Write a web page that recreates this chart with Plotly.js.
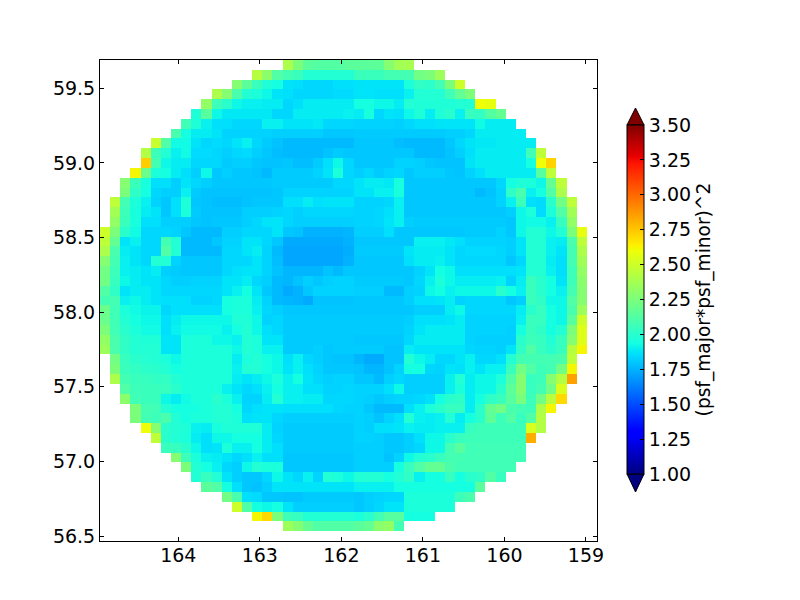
<!DOCTYPE html>
<html>
<head>
<meta charset="utf-8">
<script src="https://cdn.plot.ly/plotly-3.0.1.min.js"></script>
<style>html,body{margin:0;padding:0;background:#fff}</style>
</head>
<body>
<div id="chart" style="width:800px;height:600px"></div>
<script>
const rowStart = [18,15,13,11,10,9,8,7,5,4,4,3,2,2,1,1,1,0,0,0,0,0,0,0,0,0,0,0,0,0,1,1,1,2,2,3,3,4,5,6,7,8,9,10,12,13,15,18];
const r00=[240,225,215,213,213,213,215,215,215,216,228,237,238];
const r01=[243,230,212,208,205,198,198,198,198,198,205,205,205,208,208,208,222,225,235];
const r02=[228,215,205,197,194,187,186,184,184,184,186,186,187,187,187,187,187,196,203,201,208,225,250];
const r03=[240,228,210,198,196,192,187,186,184,184,184,184,185,185,187,187,186,186,186,190,198,198,198,207,217,225];
const r04=[232,206,200,192,190,190,189,189,184,186,189,189,189,189,189,194,194,192,192,189,198,197,197,197,197,198,198,260,258];
const r05=[197,214,192,188,188,188,188,188,184,184,189,189,189,189,189,190,189,195,184,187,186,192,197,189,197,200,190,204,203,213,218];
const r06=[207,197,190,186,186,184,184,184,190,190,187,187,187,188,184,184,184,183,183,183,183,182,184,186,186,187,187,187,187,193,189,189,189];
const r07=[210,194,189,189,187,183,183,183,183,183,182,182,182,182,182,180,180,180,181,181,181,181,181,181,181,181,181,182,182,184,189,189,189,189,189];
const r08=[248,212,193,193,187,184,185,184,187,190,184,181,179,177,177,177,177,177,177,177,180,180,180,180,178,177,177,177,177,180,184,187,188,188,189,189,189,189];
const r09=[242,206,198,190,193,185,185,184,182,184,185,182,180,178,177,177,177,177,179,181,180,180,180,180,180,180,180,177,177,177,179,182,186,189,189,189,189,189,207,245];
const r10=[273,208,192,189,189,184,184,184,181,182,182,180,179,179,180,178,178,181,186,192,184,180,180,180,180,183,183,182,180,179,179,179,187,189,189,189,189,189,194,260,272];
const r11=[262,220,196,194,189,186,182,192,180,182,180,180,179,177,181,181,181,181,183,187,196,184,182,184,181,183,184,180,182,182,182,180,179,183,186,189,189,189,189,189,214,245];
const r12=[228,205,195,186,186,182,187,184,182,180,180,180,180,180,180,181,181,181,181,181,181,184,184,187,189,189,188,195,180,180,180,180,180,180,180,180,180,184,194,197,196,192,218,245];
const r13=[225,202,194,184,182,182,190,181,179,179,179,179,179,179,179,180,183,183,183,183,183,183,183,187,187,190,190,195,180,180,180,180,180,180,180,177,179,183,202,210,190,194,212,240];
const r14=[245,208,196,190,183,180,186,197,180,179,178,178,178,179,180,180,180,186,186,189,186,187,187,187,183,183,183,184,190,180,180,180,180,180,180,180,180,180,183,190,206,186,185,200,222,245];
const r15=[237,206,195,189,187,180,186,196,181,179,179,179,179,182,182,182,183,184,182,184,184,184,184,184,183,183,184,186,190,180,180,180,180,180,180,180,180,180,180,182,192,196,185,196,212,237];
const r16=[232,205,195,186,186,182,182,182,180,179,180,180,180,182,184,187,187,184,182,182,182,182,182,182,183,183,184,187,190,182,181,181,181,181,181,181,181,181,181,180,192,193,193,190,204,232];
const r17=[250,225,200,193,184,184,184,183,180,177,177,177,182,182,184,184,184,187,180,179,175,175,175,175,176,182,182,182,186,180,180,180,180,180,180,180,181,181,181,183,180,192,198,198,192,198,225,258];
const r18=[245,218,187,190,184,184,208,198,177,177,177,180,183,183,187,187,184,180,173,173,173,173,173,173,175,180,180,180,180,180,180,190,190,190,188,186,183,183,183,183,182,187,198,198,190,189,210,245];
const r19=[240,210,189,187,184,184,212,198,177,177,177,177,184,184,187,189,183,177,172,172,172,172,172,172,174,181,181,181,181,181,187,189,189,189,187,184,185,185,185,184,182,187,198,198,190,187,208,240];
const r20=[228,208,190,187,184,198,198,183,180,180,180,180,184,184,184,187,183,178,172,172,172,172,172,172,175,180,180,180,180,180,186,189,189,190,187,184,184,184,184,184,180,184,198,198,189,186,208,236];
const r21=[222,206,190,189,187,189,182,181,180,180,180,180,184,186,187,187,183,179,176,176,176,176,179,177,180,180,180,180,180,180,180,183,187,194,192,186,186,186,186,186,186,187,198,198,190,186,206,232];
const r22=[222,204,192,189,187,187,184,182,182,183,183,183,187,187,189,184,182,177,176,179,182,180,182,183,183,181,181,181,181,181,180,184,190,196,192,189,189,189,189,190,183,189,205,200,194,187,206,230];
const r23=[212,202,187,189,189,187,184,184,184,184,184,184,187,190,194,187,180,177,173,175,180,183,183,183,183,182,182,182,177,177,182,183,192,194,190,192,192,192,192,200,194,190,205,200,194,190,208,228];
const r24=[208,208,190,192,189,187,186,186,186,183,183,184,194,196,196,189,183,177,176,175,173,179,179,179,179,180,180,180,180,180,182,186,186,187,189,183,184,184,184,184,180,182,205,202,192,192,212,228];
const r25=[220,207,196,193,191,191,184,186,186,186,186,186,194,196,196,190,184,182,180,180,180,180,180,180,180,180,180,180,180,180,180,182,182,182,189,192,184,184,184,184,184,189,200,204,194,192,210,235];
const r26=[220,207,198,194,192,192,186,189,192,192,192,192,192,197,197,192,183,184,181,181,181,181,181,181,181,181,181,181,181,181,182,186,186,186,187,189,183,183,183,183,183,190,205,204,194,192,214,250];
const r27=[225,207,200,196,193,193,186,190,193,193,193,193,190,194,198,192,186,184,181,181,181,181,181,181,181,181,181,181,181,181,183,187,189,189,189,189,183,183,183,183,182,194,205,202,194,198,225,255];
const r28=[232,210,202,198,197,197,187,187,196,196,196,192,192,190,198,196,187,187,181,181,181,181,181,181,181,180,180,180,180,180,184,189,189,189,189,189,183,182,182,182,182,200,206,204,198,204,228,255];
const r29=[235,210,202,198,198,198,187,187,196,196,196,196,196,192,198,196,190,190,181,181,181,182,180,181,181,181,181,181,179,179,189,187,187,187,187,187,184,183,183,182,187,202,212,204,200,204,243,262];
const r30=[222,204,200,199,198,196,192,196,196,196,196,196,189,196,198,194,192,186,190,184,182,180,179,179,176,173,173,179,179,198,192,189,184,184,187,190,184,184,186,198,208,208,208,208,210,245];
const r31=[225,205,203,201,200,198,194,196,196,196,196,196,190,198,198,194,192,187,190,186,183,180,180,180,179,176,176,179,183,194,194,184,183,187,186,190,187,190,190,205,222,212,206,208,222,262];
const r32=[240,208,205,204,203,203,198,196,196,196,196,196,189,187,189,192,196,190,194,187,184,182,183,183,180,180,177,182,184,182,182,182,182,190,198,189,192,192,196,212,228,204,206,228,242,285];
const r33=[212,206,205,205,204,200,196,196,196,196,190,187,184,186,190,194,190,190,186,186,183,183,184,183,183,183,186,192,182,182,182,182,190,196,189,192,192,200,216,228,204,208,222,254];
const r34=[230,207,205,205,192,189,193,196,196,200,196,190,183,183,189,198,190,190,189,189,184,184,184,183,182,180,182,183,183,184,186,194,200,202,189,194,202,205,214,224,206,222,244,270];
const r35=[225,208,207,198,194,194,194,196,198,198,194,184,186,187,187,186,186,186,186,186,184,183,183,180,177,177,177,186,190,196,200,204,204,189,200,218,222,210,208,206,240,262];
const r36=[225,208,206,210,198,194,196,196,198,198,196,186,187,187,184,182,182,182,182,182,182,182,183,182,179,183,186,198,190,189,190,198,189,194,200,216,206,212,204,212,242];
const r37=[260,228,200,198,197,190,189,195,197,197,197,197,189,183,181,181,181,181,181,181,181,183,182,186,186,187,190,189,189,190,190,190,204,206,206,206,206,206,253,242];
const r38=[245,200,198,196,189,186,192,192,194,194,194,189,184,181,181,181,181,181,181,181,183,183,182,180,180,182,186,192,192,200,204,206,206,206,206,206,206,282];
const r39=[205,204,200,192,186,187,196,190,190,194,189,186,181,181,181,181,181,181,181,182,182,182,180,180,182,184,192,192,208,214,207,207,207,207,207,207];
const r40=[228,206,196,190,189,187,184,186,190,186,186,180,180,180,180,180,180,180,182,182,182,179,183,192,198,200,204,208,208,207,207,207,207,207,207];
const r41=[225,198,194,190,184,182,192,198,196,196,180,180,180,180,180,180,180,182,182,182,182,194,204,212,218,218,210,207,207,207,207,207,207];
const r42=[198,204,198,187,182,180,180,184,192,187,184,190,183,198,196,192,198,198,198,194,198,202,190,194,194,204,194,200,202,212,204];
const r43=[215,212,194,186,180,179,182,187,187,187,187,187,187,187,187,190,190,190,190,194,194,194,194,194,194,194,194,215];
const r44=[222,210,186,185,180,180,179,179,181,181,181,181,181,180,182,183,184,184,196,196,196,196,196,206,210];
const r45=[250,212,194,192,194,187,182,182,182,182,182,182,180,182,184,187,187,196,196,196,196,196];
const r46=[262,270,225,206,204,198,198,198,198,198,196,200,208,214,214,194,194,194];
const r47=[235,228,218,212,212,212,212,215,218,230,232,208];
const rows = [r00,r01,r02,r03,r04,r05,r06,r07,r08,r09,r10,r11,r12,r13,r14,r15,r16,r17,r18,r19,r20,r21,r22,r23,r24,r25,r26,r27,r28,r29,r30,r31,r32,r33,r34,r35,r36,r37,r38,r39,r40,r41,r42,r43,r44,r45,r46,r47];

const xTicks = [164,163,162,161,160,159];
const yTicks = [59.5,59,58.5,58,57.5,57,56.5];
const cbTicks = [1,1.25,1.5,1.75,2,2.25,2.5,2.75,3,3.25,3.5];
const colorbarTitle = '(psf_major*psf_minor)^2';

const nCols = 49;
const blank = n => new Array(n).fill(null);
const z = rows.map((r,i) => blank(rowStart[i]).concat(r.map(v=>v/100), blank(nCols-rowStart[i]-r.length)));
z.push(blank(nCols));
z.reverse();   // heatmap's first row is the bottom one

const jet = [
 [0,'rgb(0,0,128)'],[0.11,'rgb(0,0,255)'],[0.125,'rgb(0,0,255)'],
 [0.34,'rgb(0,219,255)'],[0.35,'rgb(0,230,247)'],[0.375,'rgb(20,255,226)'],
 [0.64,'rgb(238,255,8)'],[0.65,'rgb(247,245,0)'],[0.66,'rgb(255,236,0)'],
 [0.89,'rgb(255,20,0)'],[0.91,'rgb(232,0,0)'],[1,'rgb(128,0,0)']
];

const font = {family:'"DejaVu Sans", sans-serif', size:19, color:'#000'};
const titleFont = {family:'"DejaVu Sans", sans-serif', size:18.6, color:'#000'};
const axisBase = {showgrid:false, zeroline:false, showline:true, linecolor:'#000', linewidth:1,
  mirror:'allticks', ticks:'inside', ticklen:4, tickcolor:'#000', tickwidth:1, tickfont:font};

const trace = {
  type:'heatmap', z:z,
  x0:164.898, dx:-0.1244, y0:56.5, dy:0.06578,
  colorscale:jet, zmin:1, zmax:3.5, hoverongaps:false, xgap:0, ygap:0,
  colorbar:{
    thickness:17, thicknessmode:'pixels', len:0.7256, lenmode:'fraction',
    x:1.0604, xanchor:'left', y:0.502, yanchor:'middle', xpad:0, ypad:0,
    outlinecolor:'#000', outlinewidth:1,
    tickmode:'array', tickvals:cbTicks, ticktext:cbTicks.map(v=>v.toFixed(2)),
    ticks:'inside', ticklen:4, tickcolor:'#000', tickwidth:1, tickfont:font,
    title:{text:colorbarTitle, side:'right', font:titleFont}
  }
};

const tri = (path,fill)=>({type:'path', xref:'paper', yref:'paper', path:path, fillcolor:fill,
  line:{color:'#000',width:1}, layer:'above'});

const layout = {
  width:800, height:600, paper_bgcolor:'#fff', plot_bgcolor:'#fff', font:font, showlegend:false,
  margin:{l:100,r:203,t:60,b:59,pad:0},
  xaxis:Object.assign({},axisBase,{range:[164.96,158.865], tickmode:'array', tickvals:xTicks, ticktext:xTicks.map(String), autorange:false, ticklabelstandoff:-3}),
  yaxis:Object.assign({},axisBase,{range:[56.467,59.69], tickmode:'array', tickvals:yTicks, ticktext:yTicks.map(v=>v.toFixed(1)), autorange:false}),
  shapes:[
    tri('M 1.0604 0.8649 L 1.0775 0.9002 L 1.0946 0.8649 Z','rgb(128,0,0)'),
    tri('M 1.0604 0.1393 L 1.0775 0.1019 L 1.0946 0.1393 Z','rgb(0,0,128)')
  ]
};
Plotly.newPlot('chart',[trace],layout,{displayModeBar:false,staticPlot:true});
</script>
</body>
</html>
